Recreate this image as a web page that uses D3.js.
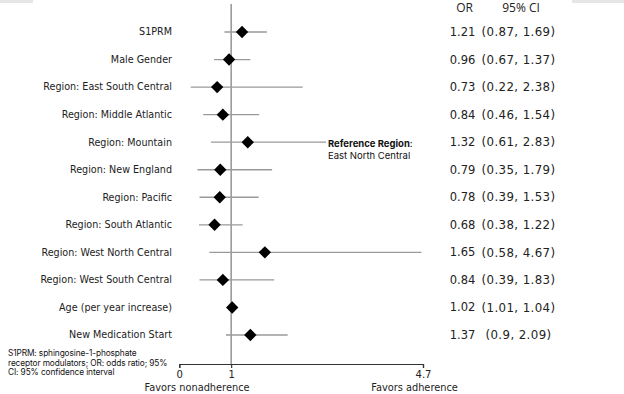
<!DOCTYPE html>
<meta charset="utf-8">
<script src="https://d3js.org/d3.v7.min.js"></script>
<style>
  body { margin: 0; background: #fff; }
  text { font-family: "DejaVu Sans", sans-serif; }
</style>
<div id="chart"></div>
<script>
// predictors of adherence, odds ratios and 95% CI
var labels = ["S1PRM", "Male Gender", "Region: East South Central", "Region: Middle Atlantic",
  "Region: Mountain", "Region: New England", "Region: Pacific", "Region: South Atlantic",
  "Region: West North Central", "Region: West South Central", "Age (per year increase)",
  "New Medication Start"];
var oddsRatio = [1.21, 0.96, 0.73, 0.84, 1.32, 0.79, 0.78, 0.68, 1.65, 0.84, 1.02, 1.37];
var ciLow  = [0.87, 0.67, 0.22, 0.46, 0.61, 0.35, 0.39, 0.38, 0.58, 0.39, 1.01, 0.9];
var ciHigh = [1.69, 1.37, 2.38, 1.54, 2.83, 1.79, 1.53, 1.22, 4.67, 1.83, 1.04, 2.09];
var xTicks = [0, 1, 4.7];

var width = 624, height = 394;

var svg = d3.select("#chart").append("svg")
    .attr("width", width)
    .attr("height", height);

// faint strip at the very top (edge of the cropped figure)
svg.append("rect").attr("x", 0).attr("y", 0).attr("width", 33).attr("height", 3).attr("fill", "#e6e6e6");
svg.append("rect").attr("x", 572).attr("y", 0).attr("width", 52).attr("height", 3).attr("fill", "#e6e6e6");

var x = d3.scaleLinear().domain([0, 4.7]).range([179.3, 423]);
var y = d3.scalePoint().domain(d3.range(labels.length)).range([32, 335]);
var axisY = 364;

// reference line at OR = 1
svg.append("line")
    .attr("x1", x(1)).attr("x2", x(1))
    .attr("y1", 4).attr("y2", axisY)
    .attr("stroke", "#8c8c8c")
    .attr("stroke-width", 1.4);

var rows = svg.append("g").selectAll("g")
    .data(labels)
    .join("g")
    .attr("transform", function(d, i) { return "translate(0," + y(i) + ")"; });

// CI lines
rows.append("line")
    .attr("x1", function(d, i) { return x(ciLow[i]); })
    .attr("x2", function(d, i) { return x(ciHigh[i]); })
    .attr("stroke", "#9a9a9a")
    .attr("stroke-width", 1.3);

// diamonds
var s = 6.2;
rows.append("path")
    .attr("d", function(d, i) {
      var cx = x(oddsRatio[i]);
      return "M" + (cx - s) + ",0L" + cx + "," + (-s) + "L" + (cx + s) + ",0L" + cx + "," + s + "Z";
    })
    .attr("fill", "#000");

// row labels
rows.append("text")
    .attr("x", 172)
    .attr("dy", "0.35em")
    .attr("text-anchor", "end")
    .attr("font-size", 9.6)
    .attr("fill", "#222")
    .text(function(d) { return d; });

// OR and CI columns
rows.append("text")
    .attr("x", 462.5)
    .attr("dy", "0.35em")
    .attr("text-anchor", "middle")
    .attr("font-size", 11.5)
    .attr("fill", "#222")
    .text(function(d, i) { return oddsRatio[i].toFixed(2); });

rows.append("text")
    .attr("x", 518.5)
    .attr("dy", "0.35em")
    .attr("text-anchor", "middle")
    .attr("font-size", 11.8)
    .attr("fill", "#222")
    .attr("letter-spacing", 0.4)
    .text(function(d, i) { return "(" + ciLow[i] + ", " + ciHigh[i] + ")"; });

// column headers
svg.append("text").attr("x", 464.5).attr("y", 11.5)
    .attr("text-anchor", "middle").attr("font-size", 12)
    .style("font-family", "'Open Sans', sans-serif").attr("fill", "#222")
    .text("OR");
svg.append("text").attr("x", 521).attr("y", 11.5)
    .attr("text-anchor", "middle").attr("font-size", 12)
    .style("font-family", "'Open Sans', sans-serif").attr("fill", "#222")
    .text("95% CI");

// x axis
var xAxis = svg.append("g")
    .attr("transform", "translate(0," + axisY + ")")
    .call(d3.axisBottom(x).tickValues(xTicks).tickSize(4).tickPadding(3)
      .tickFormat(function(d) { return d; }));
xAxis.select(".domain").attr("stroke", "#333").attr("stroke-width", 1.2);
xAxis.selectAll(".tick line").attr("stroke", "#333").attr("stroke-width", 1.2);
xAxis.selectAll(".tick text")
    .attr("font-size", 10)
    .attr("fill", "#222")
    .style("font-family", "'DejaVu Sans', sans-serif");

svg.append("text").attr("x", 197).attr("y", 391)
    .attr("text-anchor", "middle").attr("font-size", 9.8).attr("fill", "#222")
    .text("Favors nonadherence");
svg.append("text").attr("x", 414.5).attr("y", 391)
    .attr("text-anchor", "middle").attr("font-size", 9.8).attr("fill", "#222")
    .text("Favors adherence");

// reference region note
var note = svg.append("text").attr("x", 328).attr("y", 146.5)
    .style("font-family", "Inter, sans-serif").attr("font-size", 9.5).attr("fill", "#111");
note.append("tspan").attr("font-weight", "bold").text("Reference Region");
note.append("tspan").text(":");
note.append("tspan").attr("x", 328).attr("dy", 12).text("East North Central");

// footnote
var foot = ["S1PRM: sphingosine-1-phosphate", "receptor modulators; OR: odds ratio; 95%",
  "CI: 95% confidence interval"];
svg.append("g").selectAll("text")
    .data(foot)
    .join("text")
    .attr("x", 8)
    .attr("y", function(d, i) { return 356 + i * 9.6; })
    .style("font-family", "Inter, sans-serif")
    .attr("font-size", 8.3)
    .attr("letter-spacing", -0.1)
    .attr("fill", "#111")
    .text(function(d) { return d; });
</script>
